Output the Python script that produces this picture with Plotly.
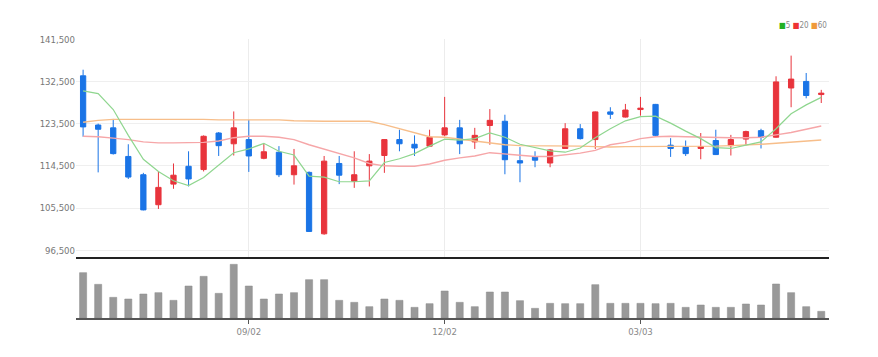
import pandas as pd
import plotly.graph_objects as go

dates = pd.date_range("2024-06-17", periods=50, freq="7D")

open_ = [133700, 123200, 122600, 116500, 112600, 106200, 110600, 114400, 113700, 121500,
         119200, 120100, 116100, 117400, 112600, 113100, 100000, 115000, 111200, 114500,
         116700, 120100, 119100, 118700, 121100, 122600, 119600, 123100, 124000, 115600,
         116400, 115100, 118200, 122400, 120100, 126000, 124900, 126500, 127600, 118900,
         118500, 118200, 119900, 118800, 120200, 122000, 120600, 131100, 132500, 129700]
high = [135000, 123500, 124500, 119100, 113000, 113300, 115000, 117600, 121000, 121700,
        126100, 124300, 119200, 118700, 118100, 113300, 116600, 116600, 117600, 117000,
        120200, 122200, 121000, 122200, 129200, 124300, 122600, 126600, 125400, 118500,
        117600, 118100, 123600, 123400, 126100, 127000, 127700, 129200, 127700, 120400,
        119900, 121500, 122200, 121100, 122000, 122400, 133600, 138000, 134300, 130700]
low = [120700, 113100, 116900, 111700, 105000, 105300, 109600, 110100, 113300, 116600,
       116700, 113200, 115900, 112100, 110500, 100400, 99800, 110600, 109800, 110100,
       113000, 117600, 116600, 118500, 120800, 117000, 118100, 119000, 112700, 111000,
       114200, 114200, 118100, 120100, 118100, 124500, 124800, 125200, 120700, 116400,
       116600, 115900, 116800, 116700, 118900, 118200, 120500, 127000, 128900, 127900]
close = [122800, 122300, 117100, 112100, 105100, 109900, 112500, 111700, 120800, 118800,
         122600, 116600, 117500, 112600, 114500, 100500, 115500, 112500, 112600, 115500,
         120100, 119200, 118300, 120600, 122600, 119200, 121000, 124200, 115800, 115100,
         115700, 117900, 122400, 120300, 126000, 125500, 126400, 126800, 121000, 118200,
         117100, 118600, 116900, 120100, 121800, 120600, 132400, 133000, 129500, 130000]
volume = [136, 101, 62, 57, 72, 76, 53, 96, 125, 74,
          161, 96, 57, 72, 76, 115, 115, 53, 47, 34,
          57, 53, 32, 43, 81, 47, 34, 78, 78, 52,
          29, 44, 43, 43, 100, 44, 44, 44, 43, 44,
          32, 39, 32, 32, 42, 39, 102, 76, 34, 20]
ma5 = [130500, 129900, 126500, 121000, 115900, 113300, 111300, 110300, 112000, 114700,
       117300, 118100, 119300, 117600, 116800, 112300, 112100, 111100, 111100, 111300,
       115200, 116000, 117100, 118700, 120200, 120000, 120300, 121500, 120600, 119100,
       118400, 117700, 117400, 118300, 120500, 122400, 124100, 125000, 125100, 123600,
       121900, 120300, 118400, 118200, 118900, 119600, 122400, 125600, 127500, 129100]
ma20 = [120800, 120700, 120400, 120100, 119600, 119400, 119400, 119400, 119500, 119800,
        120500, 120800, 120800, 120600, 120100, 119000, 118100, 117200, 116200, 115000,
        114500, 114400, 114400, 114900, 115700, 116200, 116600, 117300, 117000, 116800,
        116500, 116500, 116800, 117200, 117800, 119000, 119500, 120300, 120700, 120800,
        120700, 120600, 120600, 120500, 120500, 120600, 121100, 121600, 122300, 123000]
ma60 = [123800, 124200, 124400, 124400, 124400, 124400, 124500, 124500, 124400, 124300,
        124300, 124400, 124400, 124300, 124100, 124000, 124000, 124000, 124000, 124000,
        123300, 122400, 121600, 120700, 120600, 120200, 119700, 119300, 119000, 118800,
        118800, 118800, 118800, 118700, 118600, 118500, 118600, 118600, 118600, 118600,
        118600, 118600, 118700, 118800, 118900, 119100, 119300, 119500, 119800, 120000]
price_ticks = [96500, 105500, 114500, 123500, 132500, 141500]
date_ticks = ["2024-09-02", "2024-12-02", "2025-03-03"]

UP = "#e8343c"
DOWN = "#1a74e6"
FONT = "Liberation Sans Narrow, DejaVu Sans Condensed, sans-serif"

fig = go.Figure()
fig.add_trace(go.Scatter(x=dates, y=ma60, mode="lines", line=dict(color="#f7be8a", width=1.4),
                         xaxis="x", yaxis="y", hoverinfo="skip"))
fig.add_trace(go.Scatter(x=dates, y=ma20, mode="lines", line=dict(color="#f6a6a8", width=1.4),
                         xaxis="x", yaxis="y", hoverinfo="skip"))
fig.add_trace(go.Scatter(x=dates, y=ma5, mode="lines", line=dict(color="#8fd68f", width=1.2),
                         xaxis="x", yaxis="y", hoverinfo="skip"))
fig.add_trace(go.Candlestick(
    x=dates, open=open_, high=high, low=low, close=close,
    increasing=dict(line=dict(color=UP, width=1), fillcolor=UP),
    decreasing=dict(line=dict(color=DOWN, width=1), fillcolor=DOWN),
    whiskerwidth=0, xaxis="x", yaxis="y"))
fig.add_trace(go.Bar(x=dates, y=volume, marker=dict(color="#999999", line=dict(color="#8a8a8a", width=0.5)),
                     xaxis="x2", yaxis="y2"))

xr = [dates[0] - pd.Timedelta(days=3.3), dates[-1] + pd.Timedelta(days=3.6)]
fig.update_layout(
    width=878, height=357,
    margin=dict(l=68, r=57, t=31, b=47),
    paper_bgcolor="white", plot_bgcolor="white",
    showlegend=False, boxgap=0.5, bargap=0.53,
    font=dict(family=FONT, size=9.5, color="#777777"),
    xaxis=dict(domain=[0, 1], anchor="y", range=xr, type="date",
               tickvals=date_ticks, showticklabels=False, ticks="",
               showgrid=True, gridcolor="#ececec", gridwidth=1,
               showline=True, linecolor="#222222", linewidth=2,
               rangeslider=dict(visible=False), zeroline=False),
    yaxis=dict(domain=[0.2186, 1], anchor="x", range=[95050, 141550],
               tickvals=price_ticks, tickformat=",", showgrid=True,
               gridcolor="#efefef", gridwidth=1, zeroline=False, ticks="",
               tickfont=dict(family=FONT, size=9.5, color="#777777")),
    xaxis2=dict(domain=[0, 1], anchor="y2", range=xr, type="date", matches="x",
                tickvals=date_ticks, tickformat="%m/%d", showgrid=False,
                showline=True, linecolor="#555555", linewidth=2,
                ticks="outside", ticklen=4, tickcolor="#555555",
                tickfont=dict(family=FONT, size=9.5, color="#888888")),
    yaxis2=dict(domain=[0, 0.2186], anchor="x2", range=[0, 183], visible=False),
    annotations=[dict(
        xref="paper", yref="paper", x=1.0, y=1.0, xanchor="right", yanchor="bottom",
        yshift=7, showarrow=False,
        text=("<span style='color:#22b022'>■</span>5 "
              "<span style='color:#ee3333'>■</span>20 "
              "<span style='color:#f09a3a'>■</span>60"),
        font=dict(family=FONT, size=8, color="#888888"))],
)

fig.write_html("out.html")
